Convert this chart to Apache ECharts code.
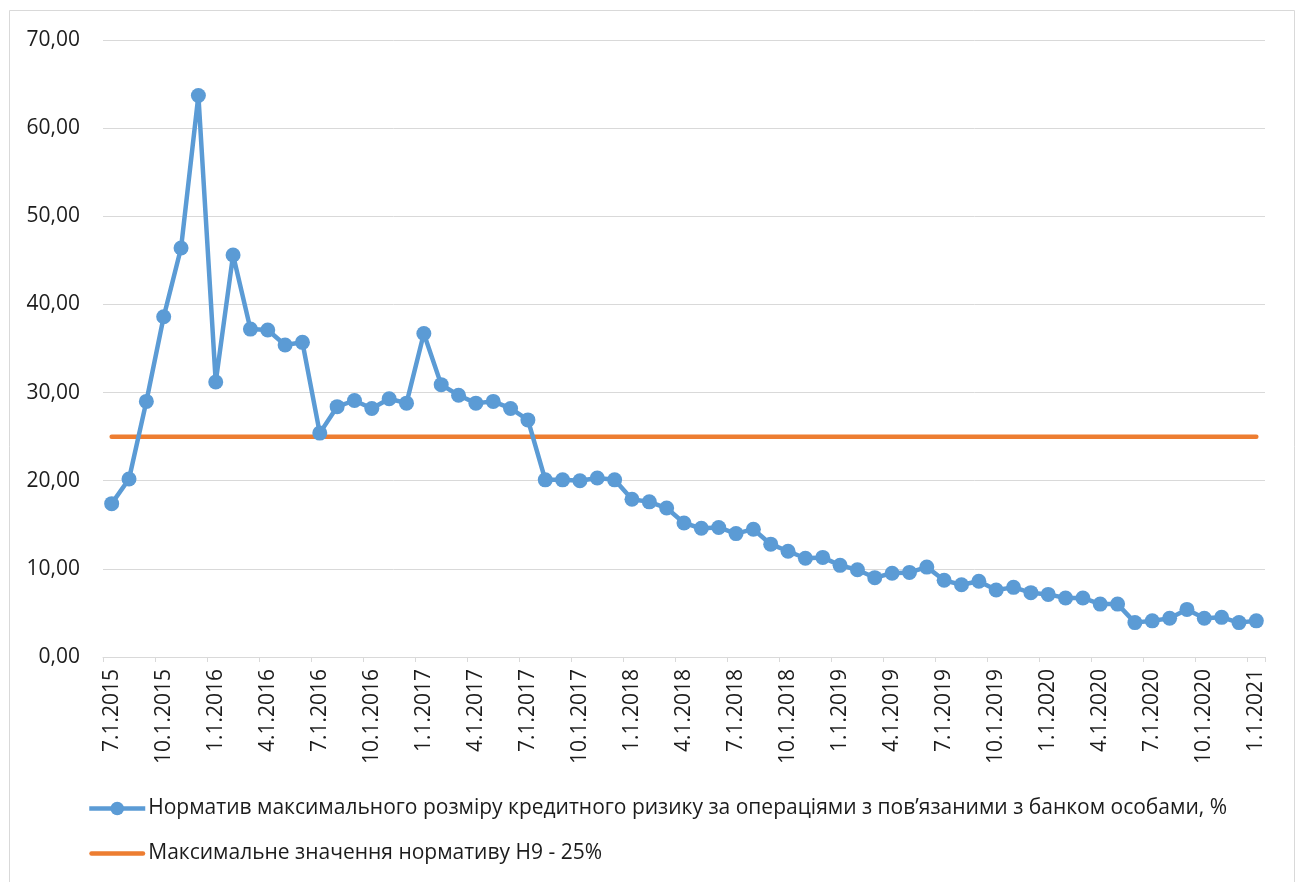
<!DOCTYPE html>
<html>
<head>
<meta charset="utf-8">
<script src="https://cdn.jsdelivr.net/npm/echarts@6/dist/echarts.min.js"></script>
<style>
  html, body { margin: 0; padding: 0; background: #fff; }
  #chart { width: 1300px; height: 882px; }
</style>
</head>
<body>
<div id="chart"></div>
<script>
// Monthly reporting dates (M.D.YYYY)
const months = [
  '7.1.2015','8.1.2015','9.1.2015','10.1.2015','11.1.2015','12.1.2015',
  '1.1.2016','2.1.2016','3.1.2016','4.1.2016','5.1.2016','6.1.2016',
  '7.1.2016','8.1.2016','9.1.2016','10.1.2016','11.1.2016','12.1.2016',
  '1.1.2017','2.1.2017','3.1.2017','4.1.2017','5.1.2017','6.1.2017',
  '7.1.2017','8.1.2017','9.1.2017','10.1.2017','11.1.2017','12.1.2017',
  '1.1.2018','2.1.2018','3.1.2018','4.1.2018','5.1.2018','6.1.2018',
  '7.1.2018','8.1.2018','9.1.2018','10.1.2018','11.1.2018','12.1.2018',
  '1.1.2019','2.1.2019','3.1.2019','4.1.2019','5.1.2019','6.1.2019',
  '7.1.2019','8.1.2019','9.1.2019','10.1.2019','11.1.2019','12.1.2019',
  '1.1.2020','2.1.2020','3.1.2020','4.1.2020','5.1.2020','6.1.2020',
  '7.1.2020','8.1.2020','9.1.2020','10.1.2020','11.1.2020','12.1.2020',
  '1.1.2021'
];

// Н9 ratio, % (one value per month)
const h9Values = [
  17.4, 20.2, 29.0, 38.6, 46.4, 63.7,
  31.2, 45.6, 37.2, 37.1, 35.4, 35.7,
  25.4, 28.4, 29.1, 28.2, 29.3, 28.8,
  36.7, 30.9, 29.7, 28.8, 29.0, 28.2,
  26.9, 20.1, 20.1, 20.0, 20.3, 20.1,
  17.9, 17.6, 16.9, 15.2, 14.6, 14.7,
  14.0, 14.5, 12.8, 12.0, 11.2, 11.3,
  10.4, 9.9, 9.0, 9.5, 9.6, 10.2,
  8.7, 8.2, 8.6, 7.6, 7.9, 7.3,
  7.1, 6.7, 6.7, 6.0, 6.0, 3.9,
  4.1, 4.4, 5.4, 4.4, 4.5, 3.9,
  4.1
];

// Regulatory maximum for Н9, %
const limitValues = [
  25, 25, 25, 25, 25, 25, 25, 25, 25, 25, 25, 25,
  25, 25, 25, 25, 25, 25, 25, 25, 25, 25, 25, 25,
  25, 25, 25, 25, 25, 25, 25, 25, 25, 25, 25, 25,
  25, 25, 25, 25, 25, 25, 25, 25, 25, 25, 25, 25,
  25, 25, 25, 25, 25, 25, 25, 25, 25, 25, 25, 25,
  25, 25, 25, 25, 25, 25, 25
];

const yTicks = [0, 10, 20, 30, 40, 50, 60, 70];

const seriesNames = [
  'Норматив максимального розміру кредитного ризику за операціями з пов’язаними з банком особами, %',
  'Максимальне значення нормативу Н9 - 25%'
];

const FONT = '"Open Sans", "Noto Sans", sans-serif';
const TEXT = '#1c1c1c';
const BLUE = '#5B9BD5';
const ORANGE = '#ED7D31';

// Plain stroke-like bar for the limit line's legend key
const LIMIT_ICON = 'path://M2.25,0H53.75A2.25,2.25,0,0,1,53.75,4.5H2.25A2.25,2.25,0,0,1,2.25,0Z';

const chart = echarts.init(document.getElementById('chart'), null, { renderer: 'canvas' });

chart.setOption({
  animation: false,
  backgroundColor: '#ffffff',
  textStyle: { fontFamily: FONT },
  graphic: [{
    type: 'rect',
    shape: { x: 9.5, y: 10.5, width: 1285, height: 900 },
    style: { fill: 'none', stroke: '#d9d9d9', lineWidth: 1 },
    silent: true,
    z: -1
  }],
  grid: { left: 103, right: 35, top: 40, bottom: 225 },
  xAxis: {
    type: 'category',
    data: months,
    boundaryGap: true,
    splitLine: { show: false },
    axisLine: { show: true, lineStyle: { color: '#d9d9d9', width: 1 } },
    axisTick: { show: true, interval: 2, alignWithLabel: false, length: 5, lineStyle: { color: '#d9d9d9' } },
    axisLabel: {
      interval: 2,
      rotate: 90,
      margin: 12,
      color: TEXT,
      fontSize: 21,
      fontFamily: FONT
    }
  },
  yAxis: {
    type: 'value',
    min: yTicks[0],
    max: yTicks[yTicks.length - 1],
    interval: 10,
    axisLine: { show: false },
    axisTick: { show: false },
    splitLine: { show: true, lineStyle: { color: '#d9d9d9', width: 1 } },
    axisLabel: {
      margin: 23,
      color: TEXT,
      fontSize: 21,
      fontFamily: FONT,
      formatter: v => v.toFixed(2).replace('.', ',')
    }
  },
  legend: {
    orient: 'vertical',
    left: 87,
    top: 798,
    padding: 0,
    itemWidth: 56,
    itemHeight: 17,
    itemGap: 24,
    lineStyle: { width: 4.5 },
    textStyle: { color: TEXT, fontSize: 21, fontFamily: FONT, padding: [0, 0, 0, -2] },
    data: [
      { name: seriesNames[0] },
      { name: seriesNames[1], icon: LIMIT_ICON }
    ]
  },
  series: [
    {
      name: seriesNames[1],
      type: 'line',
      data: limitValues,
      symbol: 'none',
      lineStyle: { color: ORANGE, width: 4.5, cap: 'round' },
      itemStyle: { color: ORANGE },
      z: 2
    },
    {
      name: seriesNames[0],
      type: 'line',
      data: h9Values,
      symbol: 'circle',
      symbolSize: 15,
      showAllSymbol: true,
      lineStyle: { color: BLUE, width: 4.5, join: 'round' },
      itemStyle: { color: BLUE },
      z: 3
    }
  ]
});
</script>
</body>
</html>
